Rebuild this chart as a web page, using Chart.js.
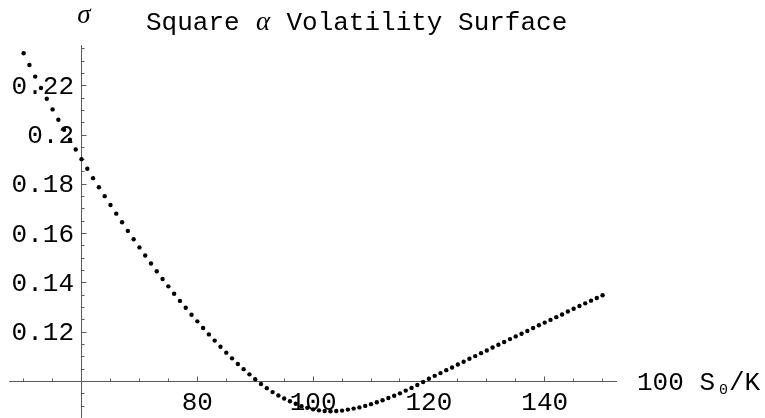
<!DOCTYPE html>
<html>
<head>
<meta charset="utf-8">
<title>Square α Volatility Surface</title>
<script src="https://cdn.jsdelivr.net/npm/chart.js@4.4.1/dist/chart.umd.min.js"></script>
<style>
  html, body { margin: 0; padding: 0; background: #fff; }
  #chart { display: block; }
</style>
</head>
<body>
<canvas id="chart" width="765" height="418"></canvas>
<script>
// Moneyness grid, 100 S0/K
const MONEYNESS = [
    50, 51, 52, 53, 54, 55, 56, 57, 58, 59,
    60, 61, 62, 63, 64, 65, 66, 67, 68, 69,
    70, 71, 72, 73, 74, 75, 76, 77, 78, 79,
    80, 81, 82, 83, 84, 85, 86, 87, 88, 89,
    90, 91, 92, 93, 94, 95, 96, 97, 98, 99,
    100, 101, 102, 103, 104, 105, 106, 107, 108, 109,
    110, 111, 112, 113, 114, 115, 116, 117, 118, 119,
    120, 121, 122, 123, 124, 125, 126, 127, 128, 129,
    130, 131, 132, 133, 134, 135, 136, 137, 138, 139,
    140, 141, 142, 143, 144, 145, 146, 147, 148, 149,
    150
];

// Implied volatility sigma
const SIGMA = [
    0.2332, 0.2284, 0.2237, 0.2191, 0.2147, 0.2104, 0.2062, 0.2021, 0.1981, 0.1941,
    0.1902, 0.1863, 0.1825, 0.1788, 0.1752, 0.1716, 0.1681, 0.1646, 0.1611, 0.1577,
    0.1544, 0.1511, 0.1479, 0.1447, 0.1416, 0.1386, 0.1356, 0.1327, 0.1299, 0.1271,
    0.1244, 0.1217, 0.1191, 0.1166, 0.1141, 0.1117, 0.1094, 0.1071, 0.1050, 0.1029,
    0.1009, 0.0990, 0.0973, 0.0957, 0.0943, 0.0931, 0.0920, 0.0910, 0.0900, 0.0893,
    0.0887, 0.0883, 0.0880, 0.0879, 0.0880, 0.0882, 0.0886, 0.0890, 0.0895, 0.0901,
    0.0908, 0.0916, 0.0924, 0.0933, 0.0942, 0.0952, 0.0963, 0.0974, 0.0986, 0.0998,
    0.1011, 0.1023, 0.1034, 0.1046, 0.1057, 0.1069, 0.1080, 0.1092, 0.1103, 0.1115,
    0.1126, 0.1138, 0.1149, 0.1160, 0.1172, 0.1183, 0.1194, 0.1205, 0.1217, 0.1228,
    0.1239, 0.1250, 0.1261, 0.1272, 0.1284, 0.1295, 0.1306, 0.1317, 0.1328, 0.1339,
    0.1350
];

// Tick labels
const X_TICKS = [80, 100, 120, 140];
const X_TICK_LABELS = ['80', '100', '120', '140'];
const Y_TICKS = [0.12, 0.14, 0.16, 0.18, 0.2, 0.22];
const Y_TICK_LABELS = ['0.12', '0.14', '0.16', '0.18', '0.2', '0.22'];

// Texts
const TITLE_LEFT = 'Square ';
const TITLE_GREEK = 'α';
const TITLE_RIGHT = ' Volatility Surface';
const Y_LABEL = 'σ';

// View window and axes (Mathematica style, crossing at 60 / 0.1)
const VIEW = { xMin: 45.92, xMax: 178.05, yMin: 0.08519, yMax: 0.25478 };
const ORIGIN = { x: 60, y: 0.1 };
const X_AXIS_RANGE = [47.5, 152.5];
const Y_AXIS_RANGE = [0.0852, 0.2365];
const AXIS_COLOR = '#5a5a5a';
const MONO = '"Liberation Mono", "Courier New", monospace';
const SERIF = '"Liberation Serif", "Times New Roman", serif';

const crisp = v => Math.floor(v) + 0.5;

// Axes, ticks and all the texts
const mathAxes = {
    id: 'mathAxes',
    beforeDatasetsDraw(chart) {
        const { ctx, scales: { x, y } } = chart;
        const x0 = crisp(x.getPixelForValue(ORIGIN.x));
        const y0 = crisp(y.getPixelForValue(ORIGIN.y));

        ctx.save();
        ctx.strokeStyle = AXIS_COLOR;
        ctx.lineWidth = 1;

        // axis lines
        ctx.beginPath();
        ctx.moveTo(x.getPixelForValue(X_AXIS_RANGE[0]), y0);
        ctx.lineTo(x.getPixelForValue(X_AXIS_RANGE[1]), y0);
        ctx.moveTo(x0, y.getPixelForValue(Y_AXIS_RANGE[0]));
        ctx.lineTo(x0, y.getPixelForValue(Y_AXIS_RANGE[1]));

        // x ticks every 5, major every 20
        for (let k = 10; k <= 30; k++) {
            if (k === 12) continue;
            const px = crisp(x.getPixelForValue(k * 5));
            const len = k % 4 === 0 ? 5 : 3;
            ctx.moveTo(px, y0);
            ctx.lineTo(px, y0 - len);
        }

        // y ticks every 0.005, major every 0.02
        for (let k = 18; k <= 47; k++) {
            if (k === 20) continue;
            const py = crisp(y.getPixelForValue(k * 0.005));
            const len = k % 4 === 0 ? 5 : 3;
            ctx.moveTo(x0, py);
            ctx.lineTo(x0 + len, py);
        }
        ctx.stroke();

        // tick labels
        ctx.fillStyle = '#000';
        ctx.font = `26px ${MONO}`;
        ctx.textBaseline = 'alphabetic';
        ctx.textAlign = 'center';
        X_TICKS.forEach((v, i) => {
            ctx.fillText(X_TICK_LABELS[i], x.getPixelForValue(v), 410);
        });
        ctx.textAlign = 'right';
        Y_TICKS.forEach((v, i) => {
            ctx.fillText(Y_TICK_LABELS[i], 74, y.getPixelForValue(v) + 8);
        });

        // title, alpha set in its own cell
        ctx.textAlign = 'left';
        const cell = ctx.measureText('M').width;
        const tx = 146;
        ctx.fillText(TITLE_LEFT, tx, 30);
        ctx.fillText(TITLE_RIGHT, tx + 8 * cell, 30);
        ctx.font = `italic 27px ${SERIF}`;
        ctx.textAlign = 'center';
        ctx.fillText(TITLE_GREEK, tx + 7.5 * cell, 30);

        // y axis label
        ctx.font = `italic 27px ${SERIF}`;
        ctx.fillText(Y_LABEL, 84, 23);

        // x axis label: 100 S0/K
        ctx.textAlign = 'left';
        ctx.font = `26px ${MONO}`;
        const lx = 637;
        ctx.fillText('100 S', lx, 390);
        ctx.font = `15px ${MONO}`;
        ctx.fillText('0', lx + 5 * cell + 4, 394);
        ctx.font = `26px ${MONO}`;
        ctx.fillText('/K', lx + 5 * cell + 14, 390);

        ctx.restore();
    }
};

const points = MONEYNESS.map((m, i) => ({ x: m, y: SIGMA[i] }));

new Chart(document.getElementById('chart'), {
    type: 'scatter',
    data: {
        datasets: [{
            label: 'sigma',
            data: points,
            pointRadius: 2.2,
            pointBackgroundColor: '#000',
            pointBorderWidth: 0,
            showLine: false
        }]
    },
    options: {
        responsive: false,
        devicePixelRatio: 1,
        animation: false,
        events: [],
        layout: { padding: 0, autoPadding: false },
        scales: {
            x: { type: 'linear', display: false, min: VIEW.xMin, max: VIEW.xMax },
            y: { type: 'linear', display: false, min: VIEW.yMin, max: VIEW.yMax }
        },
        plugins: {
            legend: { display: false },
            tooltip: { enabled: false }
        }
    },
    plugins: [mathAxes]
});
</script>
</body>
</html>
